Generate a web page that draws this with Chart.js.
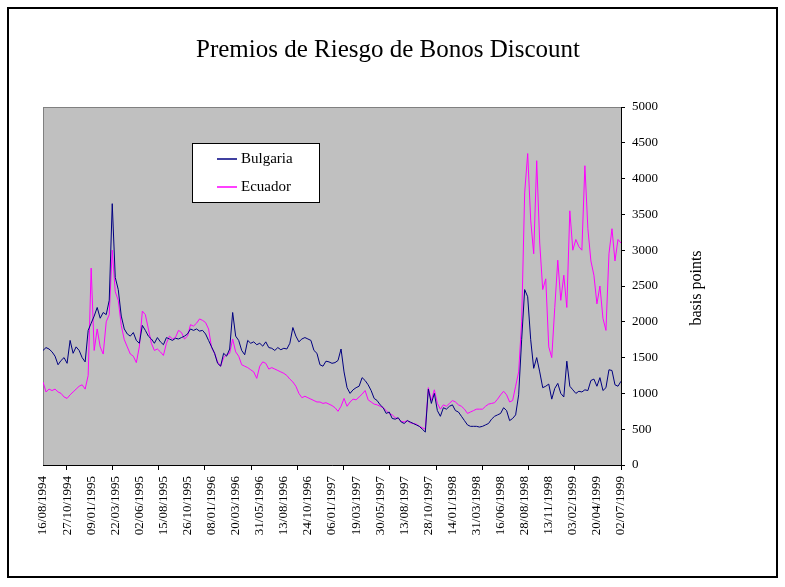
<!DOCTYPE html>
<html lang="es">
<head>
    <meta charset="UTF-8">
    <title>Premios de Riesgo de Bonos Discount</title>
    <style>
        body {
            margin: 0;
            background-color: #fff;
        }
        .chart-container {
            position: relative;
            width: 785px;
            height: 587px;
        }
    </style>
    <script src="https://cdn.jsdelivr.net/npm/chart.js@4.4.1/dist/chart.umd.min.js"></script>
</head>
<body>
    <div class="chart-container">
        <canvas id="riskChart" width="785" height="587"></canvas>
    </div>

    <script>
        // Etiquetas del eje X (una cada 8 observaciones)
        const dateLabels = [
            '16/08/1994', '27/10/1994', '09/01/1995', '22/03/1995', '02/06/1995',
            '15/08/1995', '26/10/1995', '08/01/1996', '20/03/1996', '31/05/1996',
            '13/08/1996', '24/10/1996', '06/01/1997', '19/03/1997', '30/05/1997',
            '13/08/1997', '28/10/1997', '14/01/1998', '31/03/1998', '16/06/1998',
            '28/08/1998', '13/11/1998', '03/02/1999', '20/04/1999', '02/07/1999'
        ];
        const pointsPerLabel = 8;

        // Puntos básicos
        const bulgaria = [
            1600, 1640, 1620, 1580, 1520, 1400, 1460, 1500, 1420, 1740,
            1560, 1650, 1600, 1500, 1440, 1880, 1980, 2080, 2200, 2050,
            2130, 2100, 2300, 3650, 2620, 2450, 2080, 1900, 1830, 1800,
            1850, 1740, 1700, 1950, 1880, 1800, 1760, 1700, 1780, 1720,
            1680, 1780, 1760, 1740, 1770, 1760, 1780, 1800, 1830, 1900,
            1880, 1900, 1870, 1880, 1830, 1740, 1650, 1560, 1420, 1380,
            1560, 1520, 1620, 2130, 1800, 1740, 1600, 1540, 1740, 1700,
            1720, 1680, 1700, 1660, 1720, 1640, 1630, 1600, 1640, 1610,
            1630, 1620, 1700, 1920, 1800, 1720, 1760, 1780, 1760, 1740,
            1600, 1560, 1400, 1380, 1450, 1440, 1420, 1430, 1460, 1620,
            1300, 1080, 1000, 1050, 1080, 1100, 1220, 1180, 1120, 1040,
            930, 900, 840, 800, 720, 740, 650, 640, 660, 600,
            580, 620, 600, 580, 560, 540, 500, 460, 1060, 860,
            1000, 760, 680, 800, 780, 820, 840, 760, 740, 680,
            620, 560, 540, 540, 540, 530, 540, 560, 580, 640,
            680, 700, 720, 800, 760, 620, 650, 700, 980, 1750,
            2450, 2350, 1750, 1350, 1500, 1300, 1080, 1100, 1130, 920,
            1070, 1140, 1000, 950, 1450, 1100, 1050, 1000, 1030, 1020,
            1050, 1040, 1180, 1200, 1100, 1220, 1040, 1080, 1330, 1320,
            1120, 1100, 1170
        ];
        const ecuador = [
            1160, 1020, 1060, 1040, 1060, 1020, 1000, 950, 930, 980,
            1020, 1060, 1100, 1120, 1060, 1250, 2750, 1600, 1900, 1650,
            1550, 2000, 2100, 3000, 2420, 2300, 1950, 1750, 1650, 1550,
            1520, 1430, 1650, 2150, 2100, 1900, 1700, 1600, 1620, 1580,
            1530, 1700, 1800, 1760, 1780, 1880, 1850, 1760, 1800, 1960,
            1940, 1980, 2040, 2020, 1990, 1900, 1640, 1560, 1440, 1380,
            1500, 1540, 1560, 1760, 1580, 1520, 1400, 1380, 1360, 1330,
            1300, 1210, 1380, 1440, 1420, 1340, 1360, 1340, 1320, 1300,
            1280, 1250, 1200, 1160, 1100, 1000, 940, 960, 940, 920,
            900, 880, 880, 860, 870, 850, 830, 800, 750, 820,
            930, 820, 880, 920, 910, 950, 990, 1040, 910, 880,
            850, 840, 820, 800, 760, 720, 700, 660, 650, 610,
            600, 620, 590, 580, 570, 540, 520, 500, 1080, 900,
            1050, 860, 780, 840, 820, 860, 900, 880, 840, 820,
            780, 720, 740, 760, 780, 780, 780, 820, 850, 860,
            870, 920, 980, 1030, 980, 880, 900, 1100, 1300, 2000,
            3800, 4350, 3420, 2950, 4250, 3100, 2450, 2600, 1650, 1500,
            2200, 2860, 2300, 2650, 2200, 3550, 3000, 3150, 3050, 3000,
            4180, 3300, 2850, 2650, 2250, 2500, 2050, 1880, 2950, 3300,
            2850, 3150, 3100
        ];

        const serif = "'Liberation Serif', 'Times New Roman', serif";

        // Marcas del eje X (Excel las pone cada ~1.92 etiquetas)
        const tickMarks = [];
        for (let m = 12; m >= 0; m--) tickMarks.push(24 - 1.92 * m);

        function toPoints(values) {
            return values.map((v, i) => ({ x: i / pointsPerLabel, y: v }));
        }

        // Fondo, marco exterior, área gris y título
        const backgroundPlugin = {
            id: 'background',
            beforeDraw(chart) {
                const ctx = chart.ctx;
                const a = chart.chartArea;
                ctx.save();
                ctx.fillStyle = '#fff';
                ctx.fillRect(0, 0, chart.width, chart.height);
                ctx.strokeStyle = '#000';
                ctx.lineWidth = 2;
                ctx.strokeRect(8, 8, 769, 569);
                ctx.fillStyle = '#c0c0c0';
                ctx.fillRect(a.left, a.top, a.right - a.left, a.bottom - a.top);
                ctx.strokeStyle = '#808080';
                ctx.lineWidth = 1;
                ctx.strokeRect(a.left + 0.5, a.top + 0.5, a.right - a.left, a.bottom - a.top);

                ctx.fillStyle = '#000';
                ctx.font = '25px ' + serif;
                ctx.textAlign = 'center';
                ctx.textBaseline = 'middle';
                ctx.fillText('Premios de Riesgo de Bonos Discount', 388, 50);
                ctx.restore();
            }
        };

        // Leyenda dentro del área del gráfico y título del eje derecho
        const legendPlugin = {
            id: 'boxLegend',
            afterDraw(chart) {
                const ctx = chart.ctx;
                const a = chart.chartArea;
                const x = a.left + 149;
                const y = a.top + 36;
                ctx.save();
                ctx.fillStyle = '#fff';
                ctx.fillRect(x, y, 127, 59);
                ctx.strokeStyle = '#000';
                ctx.lineWidth = 1;
                ctx.strokeRect(x + 0.5, y + 0.5, 127, 59);
                ctx.font = '15px ' + serif;
                ctx.textBaseline = 'middle';
                chart.data.datasets.forEach((ds, i) => {
                    const ly = y + 16 + i * 28;
                    ctx.strokeStyle = ds.borderColor;
                    ctx.lineWidth = 1.5;
                    ctx.beginPath();
                    ctx.moveTo(x + 25, ly);
                    ctx.lineTo(x + 45, ly);
                    ctx.stroke();
                    ctx.fillStyle = '#000';
                    ctx.fillText(ds.label, x + 49, ly);
                });

                ctx.translate(a.right + 76, a.top + 181);
                ctx.rotate(-Math.PI / 2);
                ctx.font = '16px ' + serif;
                ctx.textAlign = 'center';
                ctx.fillText('basis points', 0, 0);
                ctx.restore();
            }
        };

        const ctx = document.getElementById('riskChart').getContext('2d');
        const riskChart = new Chart(ctx, {
            type: 'line',
            data: {
                datasets: [{
                    label: 'Bulgaria',
                    data: toPoints(bulgaria),
                    borderColor: '#000080',
                    borderWidth: 1,
                    pointRadius: 0,
                    tension: 0
                }, {
                    label: 'Ecuador',
                    data: toPoints(ecuador),
                    borderColor: '#ff00ff',
                    borderWidth: 1,
                    pointRadius: 0,
                    tension: 0
                }]
            },
            options: {
                responsive: false,
                animation: false,
                devicePixelRatio: 1,
                layout: {
                    padding: { left: 43, right: 0, top: 107, bottom: 0 }
                },
                plugins: {
                    legend: { display: false },
                    tooltip: { enabled: false },
                    title: { display: false }
                },
                scales: {
                    xt: {
                        type: 'linear',
                        position: 'bottom',
                        weight: 0,
                        min: 0,
                        max: 24,
                        afterBuildTicks: (scale) => {
                            scale.ticks = tickMarks.map(v => ({ value: v }));
                        },
                        ticks: { display: false },
                        grid: {
                            drawOnChartArea: false,
                            tickLength: 5,
                            color: '#000'
                        },
                        border: { display: true, color: '#000' }
                    },
                    x: {
                        type: 'linear',
                        position: 'bottom',
                        weight: 1,
                        min: 0,
                        max: 24,
                        afterFit: (scale) => { scale.height = 117; },
                        ticks: {
                            stepSize: 1,
                            autoSkip: false,
                            minRotation: 90,
                            maxRotation: 90,
                            padding: 6,
                            color: '#000',
                            font: { family: serif, size: 13 },
                            callback: (value) => dateLabels[value]
                        },
                        grid: { display: false, drawTicks: false },
                        border: { display: false }
                    },
                    y: {
                        position: 'right',
                        min: 0,
                        max: 5000,
                        afterFit: (scale) => { scale.width = 164; },
                        ticks: {
                            stepSize: 500,
                            padding: 7,
                            color: '#000',
                            font: { family: serif, size: 13 },
                            callback: (value) => String(value)
                        },
                        grid: {
                            drawOnChartArea: false,
                            tickLength: 4,
                            color: '#000'
                        },
                        border: { display: true, color: '#000' }
                    }
                }
            },
            plugins: [backgroundPlugin, legendPlugin]
        });
    </script>
</body>
</html>
